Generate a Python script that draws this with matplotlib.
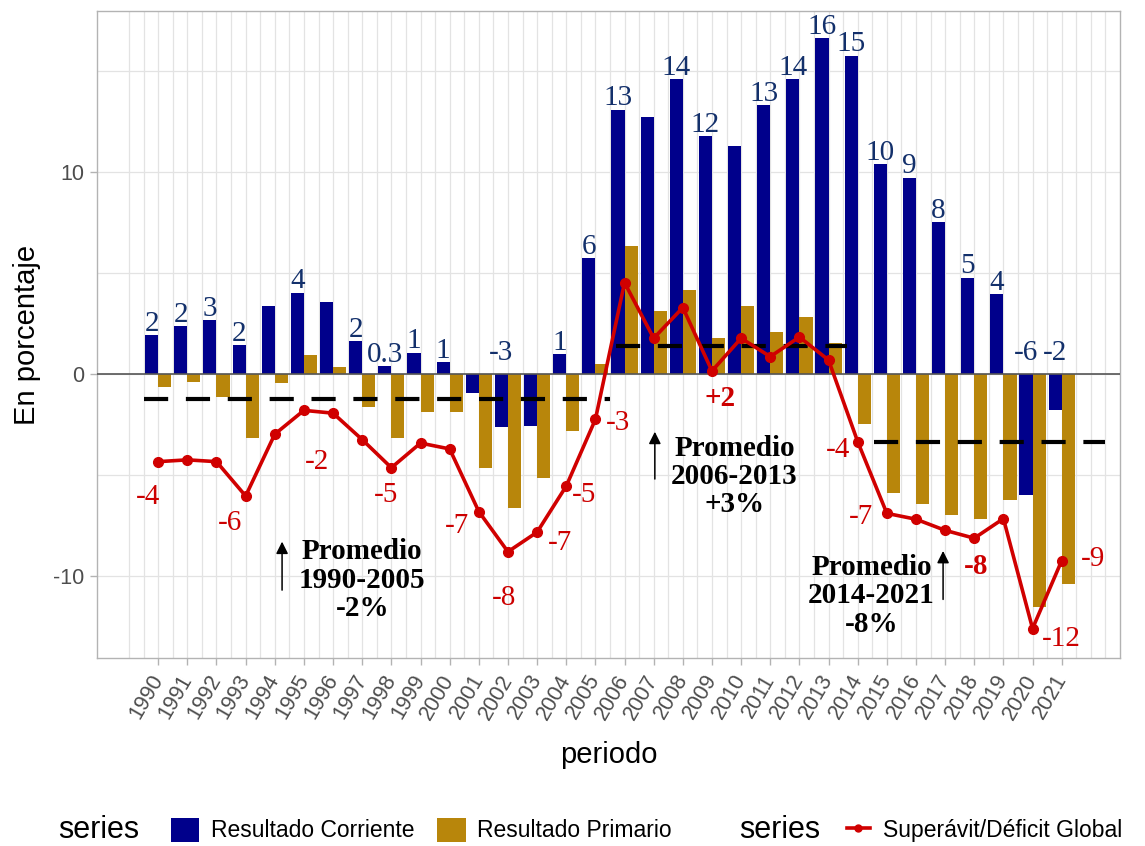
import numpy as np
import matplotlib
matplotlib.use("Agg")
import matplotlib.pyplot as plt
from matplotlib.patches import Patch
from matplotlib.lines import Line2D

years = list(range(1990, 2022))

corriente = [1.92, 2.36, 2.65, 1.45, 3.35, 4.03, 3.56, 1.63, 0.38, 1.06,
             0.59, -0.94, -2.63, -2.58, 0.99, 5.73, 13.09, 12.74, 14.62, 11.78,
             11.27, 13.32, 14.62, 16.63, 15.76, 10.41, 9.72, 7.51, 4.77, 3.96,
             -6.0, -1.8]

primario = [-0.64, -0.41, -1.15, -3.15, -0.46, 0.94, 0.37, -1.62, -3.15, -1.87,
            -1.87, -4.65, -6.65, -5.17, -2.83, 0.48, 6.36, 3.10, 4.14, 1.80,
            3.35, 2.08, 2.82, 1.55, -2.50, -5.87, -6.45, -7.00, -7.16, -6.26,
            -11.52, -10.42]

global_ = [-4.34, -4.25, -4.34, -6.04, -2.98, -1.80, -1.94, -3.25, -4.64, -3.42,
           -3.71, -6.81, -8.80, -7.83, -5.55, -2.25, 4.52, 1.77, 3.29, 0.15,
           1.77, 0.86, 1.83, 0.69, -3.35, -6.90, -7.19, -7.74, -8.13, -7.16,
           -12.60, -9.24]

corriente_labels = ["2", "2", "3", "2", "", "4", "", "2", "0.3", "1",
                    "1", "", "-3", "", "1", "6", "13", "", "14", "12",
                    "", "13", "14", "16", "15", "10", "9", "8", "5", "4",
                    "-6", "-2"]

# labels on the global line: year, text, bold, offset from the point (x, y)
global_label_years = [1990, 1993, 1995, 1998, 2001, 2002, 2003, 2004, 2005,
                      2009, 2014, 2015, 2018, 2020, 2021]
global_label_texts = ["-4", "-6", "-2", "-5", "-7", "-8", "-7", "-5", "-3",
                      "+2", "-4", "-7", "-8", "-12", "-9"]
global_label_bold = [False] * 9 + [True, False, False, True, False, False]
global_label_offsets = [(-0.35, -1.76), (-0.53, -1.32), (0.45, -2.54), (-0.17, -1.36),
                        (-0.76, -0.71), (-0.14, -2.29), (0.8, -0.55), (0.6, -0.44),
                        (0.76, -0.19), (0.28, -1.35), (-0.67, -0.41), (-0.87, -0.2),
                        (0.07, -1.41), (1.0, -0.53), (1.08, 0.07)]

# average segments (x start, x end, level)
avg_x0 = [1989.5, 2005.7, 2014.55]
avg_x1 = [2005.5, 2013.65, 2022.5]
avg_level = [-1.25, 1.40, -3.35]

promedio_texts = ["Promedio\n1990-2005\n-2%", "Promedio\n2006-2013\n+3%",
                  "Promedio\n2014-2021\n-8%"]
promedio_pos = [(1997.0, -10.2), (2009.77, -5.08), (2014.47, -10.99)]
arrow_x = [1994.25, 2007.04, 2016.93]
arrow_y0 = [-10.7, -5.2, -11.16]
arrow_y1 = [-8.3, -2.86, -8.76]

BLUE = "#00008B"
GOLD = "#B8860B"
RED = "#D00000"
LABEL_BLUE = "#13306B"
SERIF = "Liberation Serif"
SANS = "Liberation Sans"

fig = plt.figure(figsize=(11.45, 8.46), dpi=100)
ax = fig.add_axes([97 / 1145, 1 - 658 / 846, (1120 - 97) / 1145, (658 - 11) / 846])

xmin, xmax = 1987.9, 2023.0
ymin, ymax = -14.06, 17.97
ax.set_xlim(xmin, xmax)
ax.set_ylim(ymin, ymax)

# grid
for gx in np.arange(1989, 2022.6, 0.5):
    ax.axvline(gx, color="#E3E3E3", lw=0.9, zorder=0)
for gy in [-10, -5, 0, 5, 10, 15]:
    ax.axhline(gy, color="#E3E3E3", lw=0.9, zorder=0)

x = np.array(years, dtype=float)
w = 0.45
ax.bar(x - w / 2, corriente, width=w, color=BLUE, zorder=2)
ax.bar(x + w / 2, primario, width=w, color=GOLD, zorder=2)

ax.axhline(0, color="#555555", lw=1.2, zorder=3)

for x0, x1, lv in zip(avg_x0, avg_x1, avg_level):
    ax.plot([x0, x1], [lv, lv], color="black", lw=3, dashes=(5.8, 4.25),
            solid_capstyle="butt", dash_capstyle="butt", zorder=4)

ax.plot(x, global_, color=RED, lw=2.6, marker="o", markersize=7, zorder=5)

# labels on corriente bars
for xi, v, lab in zip(x, corriente, corriente_labels):
    if not lab:
        continue
    ax.annotate(lab, (xi - w / 2, max(v, 0)), xytext=(0, 3 if v > 0 else 10),
                textcoords="offset points", ha="center", va="baseline",
                fontsize=21, color=LABEL_BLUE, family=SERIF, zorder=6)

# labels on global line
for yr, txt, bold, (dx, dy) in zip(global_label_years, global_label_texts,
                                   global_label_bold, global_label_offsets):
    v = global_[years.index(yr)]
    ax.text(yr + dx, v + dy, txt, ha="center", va="center", fontsize=21,
            color="#CC0000", family=SERIF, fontweight="bold" if bold else "normal",
            zorder=6)

for txt, (px, py) in zip(promedio_texts, promedio_pos):
    ax.text(px, py, txt, ha="center", va="center", fontsize=21, fontweight="bold",
            family=SERIF, linespacing=1.05, color="black", zorder=6)

for axx, y0, y1 in zip(arrow_x, arrow_y0, arrow_y1):
    ax.annotate("", xy=(axx, y1), xytext=(axx, y0),
                arrowprops=dict(arrowstyle="-|>", color="black", lw=1.1,
                                mutation_scale=18, shrinkA=0, shrinkB=0),
                zorder=6)

# axes styling
for s in ax.spines.values():
    s.set_color("#B3B3B3")
    s.set_linewidth(1.0)
ax.set_yticks([-10, 0, 10])
ax.set_yticklabels(["-10", "0", "10"])
ax.set_xticks(years)
ax.set_xticklabels([str(y) for y in years], rotation=60, ha="right", va="center",
                   rotation_mode="anchor")
ax.tick_params(axis="both", colors="#B3B3B3", length=5, width=1,
               labelcolor="#4D4D4D", labelsize=15.5)
for lab in ax.get_xticklabels() + ax.get_yticklabels():
    lab.set_family(SANS)
ax.tick_params(axis="x", pad=8)
ax.tick_params(axis="y", pad=4)

ax.set_xlabel("periodo", fontsize=21, family=SANS, va="center")
ax.xaxis.set_label_coords(0.5, (658 - 755) / 647)
ax.set_ylabel("En porcentaje", fontsize=21, family=SANS, va="center")
ax.yaxis.set_label_coords((27 - 97) / 1023, 0.5)

# legends at the bottom
ly = 1 - 830 / 846
fig.text(58 / 1145, ly, "series", fontsize=22, family=SANS, va="center", ha="left")
bar_handles = [Patch(facecolor=BLUE), Patch(facecolor=GOLD)]
leg1 = fig.legend(bar_handles, ["Resultado Corriente", "Resultado Primario"],
                  loc="center left", bbox_to_anchor=(150 / 1145, ly), ncol=2,
                  frameon=False, prop={"family": SANS, "size": 16.5},
                  handlelength=1.25, handleheight=1.25, handletextpad=0.5,
                  columnspacing=1.0)
fig.text(739 / 1145, ly, "series", fontsize=22, family=SANS, va="center", ha="left")
line_handle = Line2D([0], [0], color=RED, lw=2.6, marker="o", markersize=5)
leg2 = fig.legend([line_handle], ["Superávit/Déficit Global"], loc="center left",
                  bbox_to_anchor=(826 / 1145, ly), frameon=False,
                  prop={"family": SANS, "size": 16.5}, handlelength=1.0,
                  handletextpad=0.6)

fig.savefig("out.png", dpi=100, facecolor="white")
